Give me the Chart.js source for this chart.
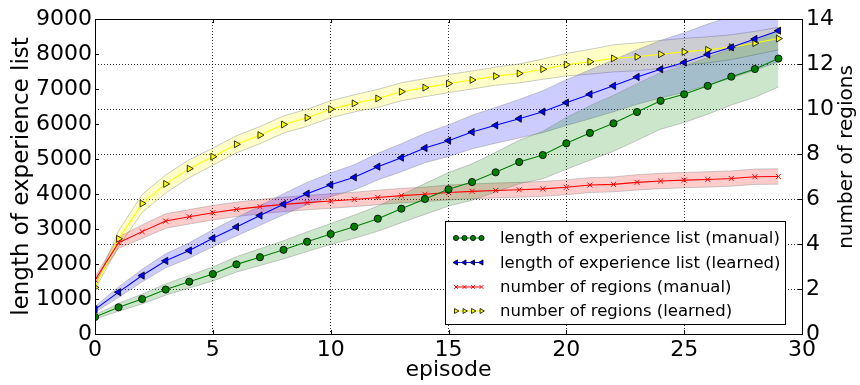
<!DOCTYPE html>
<html>
<head>
<meta charset="utf-8">
<script src="https://cdn.jsdelivr.net/npm/chart.js@4/dist/chart.umd.min.js"></script>
<style>
  html, body { margin: 0; padding: 0; background: #fff; }
  #wrap { width: 860px; height: 385px; }
</style>
</head>
<body>
<div id="wrap"><canvas id="c" width="860" height="385"></canvas></div>
<script>
// Episodes 0..29
const episodes = [0,1,2,3,4,5,6,7,8,9,10,11,12,13,14,15,16,17,18,19,20,21,22,23,24,25,26,27,28,29];

// Length of experience list, manual regions (mean and spread)
const listManual = [486,763,1000,1270,1495,1714,1990,2195,2405,2637,2857,3066,3295,3580,3857,4134,4343,4620,4914,5114,5448,5745,6019,6343,6662,6850,7090,7352,7571,7870];
const listManualStd = [60,110,140,160,180,200,220,240,260,280,300,330,360,400,440,480,520,570,620,680,740,780,800,810,810,810,810,810,810,810];

// Length of experience list, learned regions
const listLearned = [705,1195,1670,2090,2385,2738,3060,3385,3710,4010,4262,4476,4781,5038,5314,5524,5771,5962,6152,6352,6610,6850,7090,7343,7565,7757,7985,8190,8429,8666];
const listLearnedStd = [80,150,180,200,220,240,260,280,300,320,340,360,380,400,420,450,480,510,550,600,650,700,740,780,820,850,870,880,890,890];

// Number of regions, manual
const regionsManual = [2.4,4.06,4.55,5.02,5.21,5.39,5.54,5.66,5.76,5.84,5.91,5.98,6.07,6.15,6.21,6.29,6.34,6.38,6.41,6.45,6.52,6.62,6.65,6.74,6.8,6.84,6.87,6.91,6.99,7.0];
const regionsManualStd = [0.12,0.25,0.3,0.32,0.32,0.32,0.32,0.32,0.32,0.32,0.32,0.32,0.32,0.32,0.32,0.33,0.33,0.33,0.33,0.33,0.33,0.33,0.33,0.34,0.34,0.34,0.34,0.34,0.34,0.34];

// Number of regions, learned
const regionsLearned = [2.07,4.23,5.8,6.67,7.35,7.88,8.43,8.84,9.31,9.61,9.99,10.25,10.47,10.77,10.95,11.13,11.29,11.46,11.58,11.77,11.97,12.1,12.25,12.32,12.43,12.54,12.63,12.75,12.93,13.13];
const regionsLearnedStd = [0.08,0.35,0.4,0.4,0.4,0.38,0.38,0.38,0.38,0.38,0.38,0.38,0.4,0.4,0.4,0.4,0.4,0.4,0.42,0.45,0.5,0.55,0.6,0.62,0.62,0.6,0.58,0.55,0.52,0.5];

// Tick values
const xTicks = [0,5,10,15,20,25,30];
const leftTicks = [0,1000,2000,3000,4000,5000,6000,7000,8000,9000];
const rightTicks = [0,2,4,6,8,10,12,14];

const FONT = "'DejaVu Sans', 'Bitstream Vera Sans', sans-serif";
const RIGHT_TITLE = 'number of regions';

const series = [
  { label: 'length of experience list (manual)', mean: listManual, std: listManualStd, axis: 'y',
    line: '#008000', fill: 'rgba(0,128,0,0.2)', point: { pointStyle: 'circle', radius: 3.6, rotation: 0, bg: '#008000', edge: '#000', edgeW: 0.8 } },
  { label: 'length of experience list (learned)', mean: listLearned, std: listLearnedStd, axis: 'y',
    line: '#0000ff', fill: 'rgba(0,0,255,0.2)', point: { pointStyle: 'triangle', radius: 4.2, rotation: -90, bg: '#0000ff', edge: '#000', edgeW: 0.8 } },
  { label: 'number of regions (manual)', mean: regionsManual, std: regionsManualStd, axis: 'y1',
    line: '#ff0000', fill: 'rgba(255,0,0,0.2)', point: { pointStyle: 'crossRot', radius: 3.6, rotation: 0, bg: '#ff0000', edge: '#ff0000', edgeW: 1 } },
  { label: 'number of regions (learned)', mean: regionsLearned, std: regionsLearnedStd, axis: 'y1',
    line: '#ffff00', fill: 'rgba(255,255,0,0.22)', point: { pointStyle: 'triangle', radius: 4.0, rotation: 90, bg: '#ffff00', edge: '#000', edgeW: 0.8 } }
];

const pts = arr => arr.map((v, i) => ({ x: episodes[i], y: v }));

const datasets = [];
// mean lines with markers (drawn on top)
series.forEach((s, k) => {
  datasets.push({
    label: s.label, data: pts(s.mean), yAxisID: s.axis, order: k,
    borderColor: s.line, borderWidth: 1.1, fill: false, tension: 0,
    pointStyle: s.point.pointStyle, pointRadius: s.point.radius, pointRotation: s.point.rotation,
    pointBackgroundColor: s.point.bg, pointBorderColor: s.point.edge, pointBorderWidth: s.point.edgeW
  });
});
// spread bands (upper edge, then lower edge filled up to it)
series.forEach((s, k) => {
  datasets.push({
    label: s.label + ' +', data: pts(s.mean.map((v, i) => v + s.std[i])), yAxisID: s.axis, order: 10 + k,
    borderColor: 'rgba(140,140,140,0.45)', borderWidth: 1, pointRadius: 0, fill: false, tension: 0
  });
  datasets.push({
    label: s.label + ' -', data: pts(s.mean.map((v, i) => v - s.std[i])), yAxisID: s.axis, order: 10 + k,
    borderColor: 'rgba(140,140,140,0.45)', borderWidth: 1, pointRadius: 0, backgroundColor: s.fill, fill: '-1', tension: 0
  });
});

const frameAndLegend = {
  id: 'frameAndLegend',
  afterDraw(chart) {
    const ctx = chart.ctx, a = chart.chartArea;
    const ys = chart.scales.y, y1 = chart.scales.y1, xs = chart.scales.x;
    ctx.save();
    ctx.strokeStyle = '#000';
    ctx.lineWidth = 1;
    ctx.setLineDash([]);
    // inward tick marks
    ctx.beginPath();
    leftTicks.forEach(v => { const p = Math.round(ys.getPixelForValue(v)) + 0.5; ctx.moveTo(a.left, p); ctx.lineTo(a.left + 4, p); });
    rightTicks.forEach(v => { const p = Math.round(y1.getPixelForValue(v)) + 0.5; ctx.moveTo(a.right, p); ctx.lineTo(a.right - 4, p); });
    xTicks.forEach(v => { const p = Math.round(xs.getPixelForValue(v)) + 0.5; ctx.moveTo(p, a.bottom); ctx.lineTo(p, a.bottom - 4); ctx.moveTo(p, a.top); ctx.lineTo(p, a.top + 4); });
    ctx.stroke();
    // plot frame
    ctx.strokeRect(Math.round(a.left) + 0.5, Math.round(a.top) + 0.5, Math.round(a.right - a.left), Math.round(a.bottom - a.top));

    // right axis title, reading bottom to top
    ctx.save();
    ctx.translate(847, 157);
    ctx.rotate(-Math.PI / 2);
    ctx.font = '20px ' + FONT;
    ctx.fillStyle = '#000';
    ctx.textAlign = 'center';
    ctx.textBaseline = 'middle';
    ctx.fillText(RIGHT_TITLE, 0, 0);
    ctx.restore();

    // legend box
    const bx = 445.5, by = 221.5, bw = 340, bh = 103;
    ctx.fillStyle = '#fff';
    ctx.fillRect(bx, by, bw, bh);
    ctx.strokeStyle = '#000';
    ctx.strokeRect(bx, by, bw, bh);
    const rows = [238, 262.5, 287, 311];
    ctx.font = '16.5px ' + FONT;
    ctx.textBaseline = 'middle';
    ctx.textAlign = 'left';
    series.forEach((s, k) => {
      const y = rows[k];
      ctx.strokeStyle = s.line;
      ctx.lineWidth = 1;
      ctx.beginPath(); ctx.moveTo(455, y); ctx.lineTo(481, y); ctx.stroke();
      [456, 464.5, 473, 481.5].forEach(x => {
        ctx.fillStyle = s.point.bg;
        ctx.strokeStyle = s.point.edge;
        ctx.lineWidth = s.point.edgeW;
        Chart.helpers.drawPoint(ctx, { pointStyle: s.point.pointStyle, radius: s.point.radius * 0.72, rotation: s.point.rotation, borderWidth: s.point.edgeW }, x, y);
      });
      ctx.fillStyle = '#000';
      ctx.fillText(s.label, 500, y + 1);
    });
    ctx.restore();
  }
};

const plain = v => String(v);

new Chart(document.getElementById('c'), {
  type: 'line',
  data: { datasets },
  options: {
    responsive: false,
    animation: false,
    devicePixelRatio: 1,
    layout: { padding: { top: 19, left: 0, right: 0, bottom: 0 } },
    plugins: { legend: { display: false }, tooltip: { enabled: false } },
    scales: {
      x: {
        type: 'linear', position: 'bottom', min: 0, max: 30,
        afterBuildTicks: s => { s.ticks = xTicks.map(v => ({ value: v })); },
        afterFit: s => { s.height = 51; },
        ticks: { color: '#000', font: { family: FONT, size: 22 }, padding: 3, maxRotation: 0, autoSkip: false, callback: plain },
        grid: { color: '#000', lineWidth: 0.8, drawTicks: false },
        border: { display: false, dash: [1, 2] },
        title: { display: true, text: 'episode', color: '#000', font: { family: FONT, size: 22 }, padding: { top: 0, bottom: 2 } }
      },
      y: {
        type: 'linear', position: 'left', min: 0, max: 9000,
        afterBuildTicks: s => { s.ticks = leftTicks.map(v => ({ value: v })); },
        afterFit: s => { s.width = 95; },
        ticks: { color: '#000', font: { family: FONT, size: 22 }, padding: 3, callback: plain },
        grid: { drawOnChartArea: false, drawTicks: false },
        border: { display: false },
        title: { display: true, text: 'length of experience list', color: '#000', font: { family: FONT, size: 23 }, padding: { top: 8, bottom: 0 } }
      },
      y1: {
        type: 'linear', position: 'right', min: 0, max: 14,
        afterBuildTicks: s => { s.ticks = rightTicks.map(v => ({ value: v })); },
        afterFit: s => { s.width = 58; },
        ticks: { color: '#000', font: { family: FONT, size: 22 }, padding: 4, callback: plain },
        grid: { color: '#000', lineWidth: 0.8, drawTicks: false },
        border: { display: false, dash: [1, 2] },
        title: { display: false }
      }
    }
  },
  plugins: [frameAndLegend]
});
</script>
</body>
</html>
